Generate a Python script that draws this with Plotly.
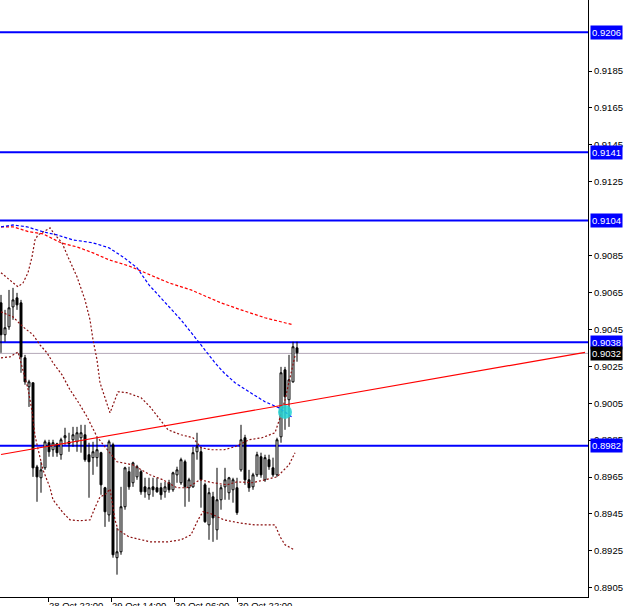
import plotly.graph_objects as go

# ---------------- data ----------------
bars = list(range(75))
opens = [0.90594,0.90421,0.90464,0.90572,0.90621,0.90594,0.90296,0.90139,0.90161,0.89705,
         0.89646,0.89700,0.89836,0.89798,0.89830,0.89771,0.89863,0.89841,0.89852,0.89841,
         0.89863,0.89879,0.89771,0.89755,0.89755,0.89782,0.89592,0.89445,0.89825,0.89213,
         0.89245,0.89489,0.89679,0.89619,0.89651,0.89679,0.89597,0.89554,0.89597,0.89592,
         0.89592,0.89570,0.89619,0.89581,0.89662,0.89619,0.89733,0.89592,0.89597,0.89787,
         0.89787,0.89608,0.89391,0.89543,0.89364,0.89527,0.89597,0.89565,0.89581,0.89592,
         0.89689,0.89863,0.89635,0.89597,0.89662,0.89760,0.89635,0.89744,0.89700,0.89662,
         0.89868,0.90231,0.90069,0.90166,0.90350]
highs = [0.90637,0.90556,0.90664,0.90675,0.90648,0.90610,0.90312,0.90177,0.90161,0.89716,
         0.89733,0.89852,0.89852,0.89852,0.89836,0.89863,0.89917,0.89890,0.89922,0.89922,
         0.89933,0.89933,0.89836,0.89841,0.89868,0.89787,0.89597,0.89852,0.89836,0.89375,
         0.89597,0.89706,0.89706,0.89733,0.89716,0.89689,0.89646,0.89646,0.89646,0.89646,
         0.89619,0.89624,0.89635,0.89679,0.89706,0.89755,0.89744,0.89646,0.89814,0.89890,
         0.89814,0.89619,0.89592,0.89570,0.89700,0.89608,0.89700,0.89651,0.89646,0.89646,
         0.89933,0.89879,0.89689,0.89673,0.89787,0.89782,0.89771,0.89771,0.89755,0.89863,
         0.90247,0.90247,0.90312,0.90383,0.90383]
lows = [0.90323,0.90383,0.90448,0.90502,0.90556,0.90215,0.90150,0.90030,0.89651,0.89516,
        0.89565,0.89689,0.89760,0.89760,0.89760,0.89744,0.89825,0.89787,0.89814,0.89787,
        0.89782,0.89733,0.89538,0.89662,0.89706,0.89554,0.89380,0.89408,0.89213,0.89121,
        0.89229,0.89473,0.89581,0.89597,0.89635,0.89554,0.89538,0.89527,0.89543,0.89565,
        0.89527,0.89538,0.89565,0.89570,0.89619,0.89608,0.89489,0.89516,0.89592,0.89744,
        0.89484,0.89402,0.89310,0.89299,0.89310,0.89473,0.89527,0.89527,0.89511,0.89445,
        0.89679,0.89608,0.89570,0.89581,0.89651,0.89646,0.89624,0.89689,0.89651,0.89651,
        0.89836,0.89906,0.89922,0.90161,0.90275]
closes = [0.90421,0.90459,0.90567,0.90610,0.90583,0.90301,0.90166,0.90166,0.89700,0.89651,
          0.89689,0.89841,0.89787,0.89836,0.89782,0.89852,0.89874,0.89830,0.89879,0.89890,
          0.89890,0.89744,0.89733,0.89787,0.89798,0.89608,0.89462,0.89841,0.89229,0.89245,
          0.89489,0.89700,0.89597,0.89727,0.89706,0.89570,0.89570,0.89592,0.89581,0.89570,
          0.89554,0.89597,0.89581,0.89673,0.89689,0.89744,0.89597,0.89635,0.89782,0.89814,
          0.89635,0.89408,0.89565,0.89429,0.89527,0.89592,0.89635,0.89646,0.89635,0.89457,
          0.89852,0.89635,0.89592,0.89662,0.89771,0.89662,0.89755,0.89706,0.89662,0.89852,
          0.90215,0.90085,0.90177,0.90356,0.90323]

# moving averages (red = slow, blue = fast)
ma_red_x = [0, 3, 7, 10.5, 15, 19, 23, 27, 32, 37, 42, 47.5, 55, 60, 66, 73]
ma_red_y = [0.91006,0.91006,0.90979,0.90968,0.90919,0.90897,0.90865,0.90827,0.90794,
            0.90746,0.90702,0.90664,0.90594,0.90556,0.90513,0.90475]
ma_blue_x = [0, 3, 6.5, 10.5, 14, 18, 23, 27, 30.5, 34, 37, 41, 45, 50, 53.5, 55.75,
             58.5, 62, 66, 69.5, 73]
ma_blue_y = [0.91006,0.91016,0.91006,0.90979,0.90962,0.90935,0.90919,0.90892,0.90843,
             0.90784,0.90691,0.90594,0.90502,0.90366,0.90269,0.90215,0.90161,0.90112,
             0.90058,0.90025,0.89971]

# Bollinger bands
bb_up_x = [0, 3, 4.25, 5.5, 6.75, 7.75, 8.5, 9.25, 12.25, 13.5, 15.25, 16.75, 19, 21,
           22.25, 23, 24, 24.75, 26, 27.25, 28.5, 29.25, 31.5, 35, 37.25, 39.25, 41.75,
           45, 48, 50, 52.5, 55.75, 58.5, 62, 65.25, 68.5, 69.75, 71, 72.25, 73.5]
bb_up_y = [0.90757,0.90702,0.90681,0.90702,0.90757,0.90843,0.90935,0.90962,0.91000,
           0.90962,0.90919,0.90843,0.90735,0.90610,0.90502,0.90394,0.90285,0.90161,
           0.90085,0.89998,0.90069,0.90112,0.90107,0.90080,0.90031,0.89977,0.89906,
           0.89879,0.89863,0.89809,0.89798,0.89798,0.89814,0.89852,0.89863,0.89890,
           0.89971,0.90069,0.90188,0.90307]
bb_mid_x = [0, 3, 5.5, 8, 9.75, 11.5, 13, 15.25, 17.25, 19.25, 21.5, 24, 26, 29, 33,
            37.25, 40.5, 44, 46.5, 49.75, 53, 56.5, 59, 62.75, 66, 69, 72, 73.5]
bb_mid_y = [0.90545,0.90518,0.90464,0.90421,0.90366,0.90323,0.90269,0.90204,0.90123,
            0.90058,0.89977,0.89868,0.89814,0.89733,0.89716,0.89662,0.89635,0.89592,
            0.89592,0.89635,0.89619,0.89608,0.89624,0.89619,0.89635,0.89651,0.89716,
            0.89782]
bb_low_x = [0, 2.25, 4.25, 5.5, 6.75, 7.75, 8.5, 9.25, 10.5, 12.25, 13, 15.5, 17.25,
            19.75, 22.25, 23.5, 24.75, 26, 27.25, 28.5, 29.25, 32, 35, 37.25, 41.75, 45,
            47.5, 49.25, 50.5, 52.5, 55.75, 59.5, 63.5, 68.5, 69.75, 71, 73.25]
bb_low_y = [0.90296,0.90301,0.90328,0.90231,0.90128,0.90009,0.89874,0.89803,0.89689,
            0.89592,0.89527,0.89457,0.89418,0.89413,0.89418,0.89484,0.89543,0.89554,
            0.89586,0.89418,0.89364,0.89326,0.89310,0.89299,0.89299,0.89310,0.89337,
            0.89418,0.89462,0.89451,0.89418,0.89402,0.89391,0.89391,0.89327,0.89283,
            0.89256]

# trend line anchors
trend_x = [0, 146]
trend_y = [0.89772, 0.90326]

# signal marker
signal_x = [71]
signal_y = [0.90003]

# horizontal levels and bid
levels = [0.9206, 0.9141, 0.9104, 0.9038, 0.8982]
bid = 0.9032

# axes
x_range = [-0.25, 146.75]
y_range = [0.8900, 0.92235]
x_tickvals = [-4, 11.75, 27.5, 43.25, 59]
x_ticktext = ["28 Oct 06:00", "28 Oct 22:00", "29 Oct 14:00", "30 Oct 06:00", "30 Oct 22:00"]
y_tickvals = [0.8905, 0.8925, 0.8945, 0.8965, 0.8985, 0.9005, 0.9025, 0.9045, 0.9065,
              0.9085, 0.9125, 0.9145, 0.9165, 0.9185, 0.9225]

FONT = "Liberation Sans"
BB_COLOR = "#8b1010"

fig = go.Figure()

# level lines
for lv in levels:
    fig.add_shape(type="line", xref="paper", x0=0, x1=1, yref="y", y0=lv, y1=lv,
                  line=dict(color="#0000ff", width=2), layer="below")
fig.add_shape(type="line", xref="paper", x0=0, x1=1, yref="y", y0=bid, y1=bid,
              line=dict(color="#b4a8b8", width=1), layer="below")

# bollinger bands
for bx, by in [(bb_up_x, bb_up_y), (bb_mid_x, bb_mid_y), (bb_low_x, bb_low_y)]:
    fig.add_trace(go.Scatter(x=bx, y=by, mode="lines",
                             line=dict(color=BB_COLOR, width=1.2, dash="2px,2px"),
                             hoverinfo="skip", showlegend=False))

# moving averages
fig.add_trace(go.Scatter(x=ma_red_x, y=ma_red_y, mode="lines",
                         line=dict(color="#ff0000", width=1.2, dash="3px,2px"),
                         hoverinfo="skip", showlegend=False))
fig.add_trace(go.Scatter(x=ma_blue_x, y=ma_blue_y, mode="lines",
                         line=dict(color="#0000ff", width=1.2, dash="3px,2px"),
                         hoverinfo="skip", showlegend=False))

# trend line
fig.add_trace(go.Scatter(x=trend_x, y=trend_y, mode="lines",
                         line=dict(color="#ff0000", width=1.2),
                         hoverinfo="skip", showlegend=False))

# candles
fig.add_trace(go.Candlestick(
    x=bars, open=opens, high=highs, low=lows, close=closes,
    increasing=dict(line=dict(color="#000000", width=1), fillcolor="#ffffff"),
    decreasing=dict(line=dict(color="#000000", width=1), fillcolor="#000000"),
    whiskerwidth=0, showlegend=False))

# signal
fig.add_trace(go.Scatter(x=signal_x, y=signal_y, mode="markers",
                         marker=dict(color="#22d3d3", size=14, opacity=0.85,
                                     line=dict(width=0)),
                         hoverinfo="skip", showlegend=False))

# right-axis price labels
for lv in levels:
    fig.add_annotation(xref="paper", x=1, yref="y", y=lv, xanchor="left", yanchor="middle",
                       xshift=2, text=f"{lv:.4f}", showarrow=False,
                       bgcolor="#0000ff", font=dict(family=FONT, size=9.5, color="#ffffff"),
                       borderpad=1)
fig.add_annotation(xref="paper", x=1, yref="y", y=bid, xanchor="left", yanchor="middle",
                   xshift=2, text=f"{bid:.4f}", showarrow=False,
                   bgcolor="#000000", font=dict(family=FONT, size=9.5, color="#ffffff"),
                   borderpad=1)

fig.update_layout(
    width=625, height=606,
    margin=dict(l=0, r=37, t=0, b=9, autoexpand=False),
    paper_bgcolor="#ffffff", plot_bgcolor="#ffffff",
    font=dict(family=FONT, size=9.5, color="#000000"),
    xaxis=dict(range=x_range, showgrid=False, zeroline=False, rangeslider=dict(visible=False),
               showline=True, linecolor="#000000", linewidth=1,
               ticks="outside", ticklen=4, tickcolor="#000000",
               tickmode="array", tickvals=x_tickvals, ticktext=x_ticktext,
               tickangle=0, automargin=False,
               ticklabelposition="outside right", fixedrange=True),
    yaxis=dict(range=y_range, side="right", showgrid=False, zeroline=False,
               showline=True, linecolor="#000000", linewidth=1,
               ticks="outside", ticklen=3, tickcolor="#000000",
               tickmode="array", tickvals=y_tickvals, tickformat=".4f",
               automargin=False, fixedrange=True),
    hovermode=False,
)

fig.write_html("out.html")
